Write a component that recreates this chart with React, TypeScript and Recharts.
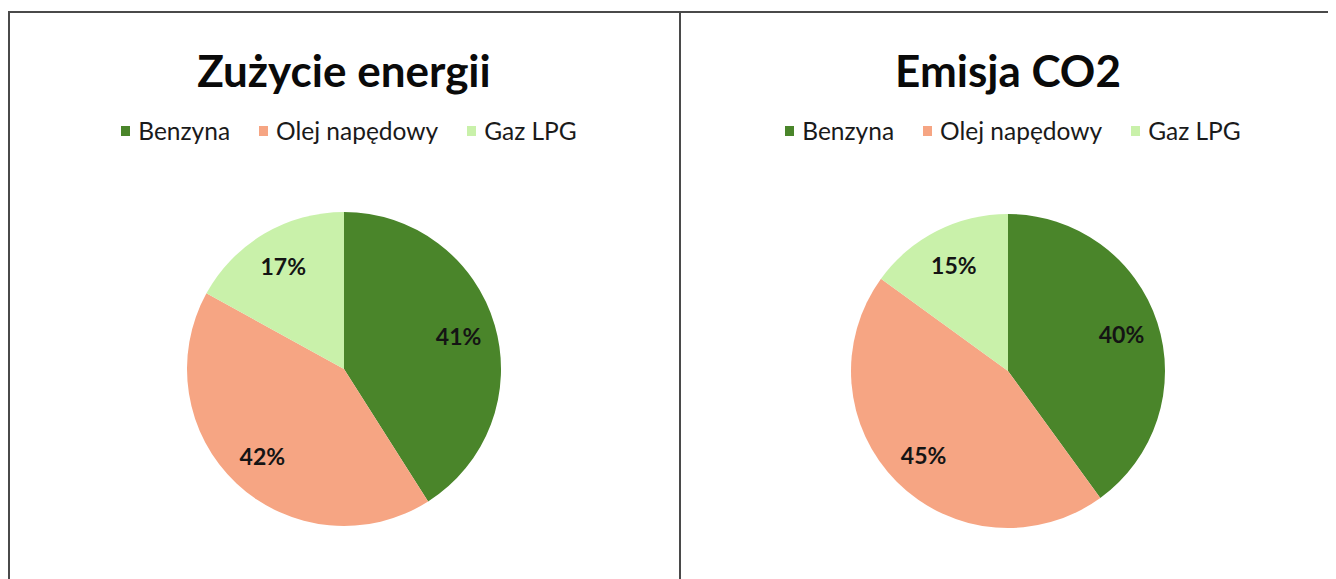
import React from 'react';
import { PieChart, Pie, Cell, Legend } from 'recharts';

// Two pie charts side by side: energy use and CO2 emission by fuel type.

const fuels = ['Benzyna', 'Olej napędowy', 'Gaz LPG'];
const energyShare = [41, 42, 17];
const co2Share = [40, 45, 15];
const titles = ['Zużycie energii', 'Emisja CO2'];

const COLORS = ['#4a852a', '#f6a583', '#c9f1aa'];
const FONT = 'Lato, "Open Sans", sans-serif';
const RAD = Math.PI / 180;

const energyData = fuels.map((name, i) => ({ name, value: energyShare[i] }));
const co2Data = fuels.map((name, i) => ({ name, value: co2Share[i] }));

function renderLabel({ cx, cy, midAngle, outerRadius, value }: any) {
  const r = outerRadius * 0.76;
  const x = cx + r * Math.cos(-midAngle * RAD);
  const y = cy + r * Math.sin(-midAngle * RAD);
  return (
    <text
      x={x}
      y={y}
      textAnchor="middle"
      dominantBaseline="central"
      fontFamily={FONT}
      fontSize={23}
      fontWeight={700}
      fill="#141414"
    >
      {`${value}%`}
    </text>
  );
}

// keep the legend in data order (recharts sorts it by name otherwise)
function FuelLegend() {
  return (
    <div style={{ display: 'flex', justifyContent: 'center', fontFamily: FONT, fontSize: 24.5, lineHeight: '30px', color: '#1a1a1a' }}>
      {fuels.map((name, i) => (
        <div key={name} style={{ display: 'flex', alignItems: 'center', marginLeft: i === 0 ? 0 : 29 }}>
          <span style={{ width: 9, height: 10, background: COLORS[i], marginRight: 8, display: 'inline-block' }} />
          <span>{name}</span>
        </div>
      ))}
    </div>
  );
}

interface PanelProps {
  title: string;
  data: { name: string; value: number }[];
  left: number;
  width: number;
  cx: number;
  cy: number;
}

function Panel({ title, data, left, width, cx, cy }: PanelProps) {
  return (
    <div style={{ position: 'absolute', left, top: 0, width, height: 571 }}>
      <div
        style={{
          position: 'absolute',
          left: cx - 200,
          width: 400,
          top: 36,
          textAlign: 'center',
          fontFamily: FONT,
          fontWeight: 700,
          fontSize: 44,
          color: '#0a0a0a',
        }}
      >
        {title}
      </div>
      <PieChart width={width} height={571} margin={{ top: 0, right: 0, bottom: 0, left: 0 }}>
        <Legend
          verticalAlign="top"
          content={<FuelLegend />}
          wrapperStyle={{ top: 108, left: cx - 295, width: 600, height: 30 }}
        />
        <Pie
          data={data}
          dataKey="value"
          nameKey="name"
          cx={cx}
          cy={cy - 30}
          outerRadius={157}
          startAngle={90}
          endAngle={-270}
          stroke="none"
          label={renderLabel}
          labelLine={false}
          isAnimationActive={false}
        >
          {data.map((d, i) => (
            <Cell key={d.name} fill={COLORS[i]} />
          ))}
        </Pie>
      </PieChart>
    </div>
  );
}

export default function App() {
  return (
    <div style={{ position: 'relative', width: 1328, height: 571, background: '#fff', overflow: 'hidden' }}>
      <div style={{ position: 'absolute', left: 0, top: 3, width: 1328, height: 2, background: '#4a4a4a' }} />
      <div style={{ position: 'absolute', left: 0, top: 3, width: 2, height: 568, background: '#4a4a4a' }} />
      <div style={{ position: 'absolute', left: 671, top: 3, width: 2, height: 568, background: '#4a4a4a' }} />
      <Panel title={titles[0]} data={energyData} left={2} width={668} cx={334} cy={361} />
      <Panel title={titles[1]} data={co2Data} left={673} width={655} cx={327} cy={363} />
    </div>
  );
}
